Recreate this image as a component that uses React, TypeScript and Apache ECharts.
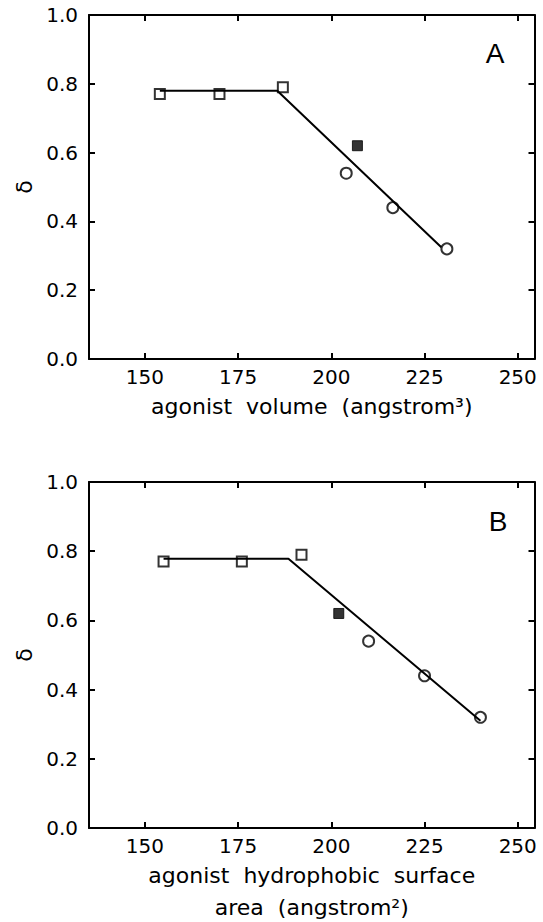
import React, { useEffect, useRef } from "react";
import * as echarts from "echarts";

// ---- data ----
const deltaSquares = [0.77, 0.77, 0.79];
const deltaFilled = [0.62];
const deltaCircles = [0.54, 0.44, 0.32];

// Panel A: agonist volume (angstrom^3)
const volSquares = [154, 170, 187];
const volFilled = [207];
const volCircles = [204, 216.5, 231];
const volFitX = [154, 185.5, 229.5];
const volFitY = [0.78, 0.78, 0.325];

// Panel B: agonist hydrophobic surface area (angstrom^2)
const areaSquares = [155, 176, 192];
const areaFilled = [202];
const areaCircles = [210, 225, 240];
const areaFitX = [155, 188.5, 240];
const areaFitY = [0.778, 0.778, 0.31];

const X_MIN = 135;
const X_MAX = 254.5;
const X_STEP = 25;
const Y_MIN = 0;
const Y_MAX = 1;
const Y_STEP = 0.2;

const panelLetters = ["A", "B"];
const xNames = [
  "agonist  volume  (angstrom³)",
  "agonist  hydrophobic  surface\narea  (angstrom²)",
];
const yName = "δ";

const FONT = "DejaVu Sans";

const zip = (xs: number[], ys: number[]) => xs.map((x, i) => [x, ys[i]]);

function buildXAxes(gridIndex: number, name: string) {
  const common: any = {
    type: "value",
    gridIndex,
    min: X_MIN,
    max: X_MAX,
    minInterval: X_STEP,
    maxInterval: X_STEP,
    axisLine: { show: true, onZero: false, lineStyle: { color: "#000", width: 2 } },
    axisTick: { show: true, inside: true, length: 6, lineStyle: { color: "#000", width: 2 } },
    splitLine: { show: false },
  };
  return [
    {
      ...common,
      position: "bottom",
      name,
      nameLocation: "middle",
      nameGap: 31,
      nameTextStyle: { fontFamily: FONT, fontSize: 22, color: "#000", lineHeight: 32 },
      axisLabel: {
        show: true,
        margin: 8,
        fontFamily: FONT,
        fontSize: 20,
        color: "#000",
        showMinLabel: false,
        showMaxLabel: false,
      },
    },
    { ...common, position: "top", axisLabel: { show: false } },
  ];
}

function buildYAxes(gridIndex: number) {
  const common: any = {
    type: "value",
    gridIndex,
    min: Y_MIN,
    max: Y_MAX,
    interval: Y_STEP,
    axisLine: { show: true, onZero: false, lineStyle: { color: "#000", width: 2 } },
    axisTick: { show: true, inside: true, length: 6, lineStyle: { color: "#000", width: 2 } },
    splitLine: { show: false },
  };
  return [
    {
      ...common,
      position: "left",
      name: yName,
      nameLocation: "middle",
      nameGap: 52,
      nameRotate: 90,
      nameTextStyle: { fontFamily: FONT, fontSize: 22, color: "#000" },
      axisLabel: {
        show: true,
        margin: 11,
        fontFamily: FONT,
        fontSize: 20,
        color: "#000",
        formatter: (v: number) => v.toFixed(1),
      },
    },
    { ...common, position: "right", axisLabel: { show: false } },
  ];
}

function buildSeries(
  axisIndex: number,
  fitX: number[],
  fitY: number[],
  sq: number[],
  filled: number[],
  circ: number[]
) {
  const base = { xAxisIndex: axisIndex, yAxisIndex: axisIndex, silent: true };
  const hollow = { color: "rgba(0,0,0,0)", borderColor: "#000", borderWidth: 2 };
  return [
    {
      ...base,
      type: "line",
      data: zip(fitX, fitY),
      showSymbol: false,
      lineStyle: { color: "#000", width: 2 },
      z: 2,
    },
    {
      ...base,
      type: "scatter",
      data: zip(sq, deltaSquares),
      symbol: "rect",
      symbolSize: 10,
      itemStyle: hollow,
      z: 3,
    },
    {
      ...base,
      type: "scatter",
      data: zip(filled, deltaFilled),
      symbol: "rect",
      symbolSize: 10,
      itemStyle: { color: "#000", borderColor: "#000", borderWidth: 1 },
      z: 3,
    },
    {
      ...base,
      type: "scatter",
      data: zip(circ, deltaCircles),
      symbol: "circle",
      symbolSize: 11,
      itemStyle: hollow,
      z: 3,
    },
  ];
}

const option: any = {
  animation: false,
  backgroundColor: "#fff",
  grid: [
    { left: 89, width: 445.5, top: 15, height: 344, containLabel: false, outerBoundsMode: "none" },
    { left: 89, width: 445.5, top: 482, height: 346, containLabel: false, outerBoundsMode: "none" },
  ],
  xAxis: [...buildXAxes(0, xNames[0]), ...buildXAxes(1, xNames[1])],
  yAxis: [...buildYAxes(0), ...buildYAxes(1)],
  series: [
    ...buildSeries(0, volFitX, volFitY, volSquares, volFilled, volCircles),
    ...buildSeries(2, areaFitX, areaFitY, areaSquares, areaFilled, areaCircles),
  ],
  graphic: [
    {
      type: "text",
      x: 495,
      y: 53,
      style: {
        text: panelLetters[0],
        fontFamily: "Liberation Sans",
        fontSize: 28,
        fill: "#000",
        align: "center",
        verticalAlign: "middle",
      },
    },
    {
      type: "text",
      x: 498,
      y: 521,
      style: {
        text: panelLetters[1],
        fontFamily: "Liberation Sans",
        fontSize: 28,
        fill: "#000",
        align: "center",
        verticalAlign: "middle",
      },
    },
  ],
};

export default function App() {
  const ref = useRef<HTMLDivElement>(null);
  useEffect(() => {
    const chart = echarts.init(ref.current!, null, { renderer: "svg" });
    chart.setOption(option);
    return () => chart.dispose();
  }, []);
  return (
    <div
      ref={ref}
      style={{ position: "fixed", left: 0, top: 0, width: 543, height: 922, background: "#fff" }}
    />
  );
}
